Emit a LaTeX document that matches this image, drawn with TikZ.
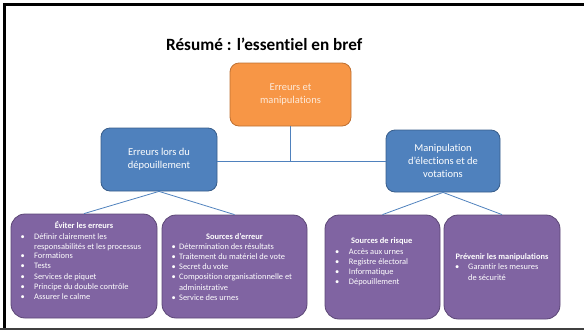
\documentclass[tikz,border=0pt]{standalone}
\usepackage{fontspec}
\setmainfont{Carlito}[Ligatures={NoCommon}]
\definecolor{orangefill}{RGB}{247,150,70}
\definecolor{orangeline}{RGB}{190,112,50}
\definecolor{bluefill}{RGB}{79,129,189}
\definecolor{blueline}{RGB}{56,93,138}
\definecolor{purplefill}{RGB}{128,100,162}
\definecolor{purpleline}{RGB}{92,71,118}
\definecolor{connblue}{RGB}{79,129,189}
\definecolor{orangetext}{RGB}{253,234,218}
\tikzset{
  topbox/.style={draw=orangeline, fill=orangefill, rounded corners=9pt, line width=0.8pt,
    minimum width=121pt, minimum height=63pt, text=orangetext, align=center,
    font=\fontsize{10.5}{13.3}\selectfont},
  midbox/.style={draw=blueline, fill=bluefill, rounded corners=9pt, line width=0.8pt,
    text=white, align=center, font=\fontsize{10.5}{12.8}\selectfont},
  leafbox/.style={draw=purpleline, fill=purplefill, rounded corners=14pt, line width=0.8pt},
  conn/.style={draw=connblue, line width=0.8pt},
  leaftitle/.style={text=white, font=\bfseries\fontsize{8.4}{9}\selectfont, inner sep=0pt},
  leafline/.style={text=white, font=\fontsize{8.4}{9}\selectfont, inner sep=0pt, anchor=mid west},
}
\begin{document}
\begin{tikzpicture}[x=1pt,y=-1pt]
\useasboundingbox (0,0) rectangle (584,330);
% frame
\fill[black] (3,3) rectangle (584,6);
\fill[black] (3,3) rectangle (6,328);
\draw[black!75, line width=1.6pt] (0,329) -- (584,329);
% title
\node[font=\bfseries\fontsize{17.2}{21}\selectfont, inner sep=0pt] (title) at (264.2,44) {Résumé : l’essentiel en bref};
% boxes
\node[topbox] (top) at (290.5,94.5) {Erreurs et\\manipulations};
\node[midbox, minimum width=116pt, minimum height=63pt] (left) at (159,159.5) {Erreurs lors du\\dépouillement};
\node[midbox, minimum width=114pt, minimum height=62pt] (right) at (443,161) {Manipulation\\d’élections et de\\votations};
\node[leafbox, minimum width=146pt, minimum height=104pt] (p1) at (84,266) {};
\node[leafbox, minimum width=145pt, minimum height=103pt] (p2) at (234.5,266.5) {};
\node[leafbox, minimum width=115pt, minimum height=104pt] (p3) at (382.5,267) {};
\node[leafbox, minimum width=116pt, minimum height=104pt] (p4) at (502,267) {};
% connectors
\draw[conn] (top.south) -- (top.south |- right.west);
\draw[conn] (left.east |- right.west) -- (right.west);
\draw[conn] (left.south) -- (p1.north);
\draw[conn] (left.south) -- (p2.north);
\draw[conn] (right.south) -- (p3.north);
\draw[conn] (right.south) -- (p4.north);
% box 1 text
\node[leaftitle] (t1) at (84,225.3) {Éviter les erreurs};
\foreach \y/\b/\t in {236.7/•/Définir clairement les, 246.7//responsabilités et les processus, 256/•/Formations, 266/•/Tests, 276.7/•/Services de piquet, 286.7/•/Principe du double contrôle, 297/•/Assurer le calme}{
  \node[leafline] at (20.5,\y) {\b};
  \node[leafline] at (34,\y) {\t};
}
% box 2 text
\node[leaftitle] (t2) at (234.5,236.3) {Sources d’erreur};
\foreach \y/\b/\t in {247/•/Détermination des résultats, 257/•/Traitement du matériel de vote, 267/•/Secret du vote, 277.3/•/Composition organisationnelle et, 287.7//administrative, 298/•/Service des urnes}{
  \node[leafline] at (171.5,\y) {\b};
  \node[leafline] at (179,\y) {\t};
}
% box 3 text
\node[leaftitle] (t3) at (381.7,241) {Sources de risque};
\foreach \y/\b/\t in {252/•/Accès aux urnes, 262/•/Registre électoral, 272/•/Informatique, 282/•/Dépouillement}{
  \node[leafline] at (335,\y) {\b};
  \node[leafline] at (348.7,\y) {\t};
}
% box 4 text
\node[leaftitle] (t4) at (502,257) {Prévenir les manipulations};
\foreach \y/\b/\t in {267/•/Garantir les mesures, 278//de sécurité}{
  \node[leafline] at (455,\y) {\b};
  \node[leafline] at (468,\y) {\t};
}
\end{tikzpicture}
\end{document}
